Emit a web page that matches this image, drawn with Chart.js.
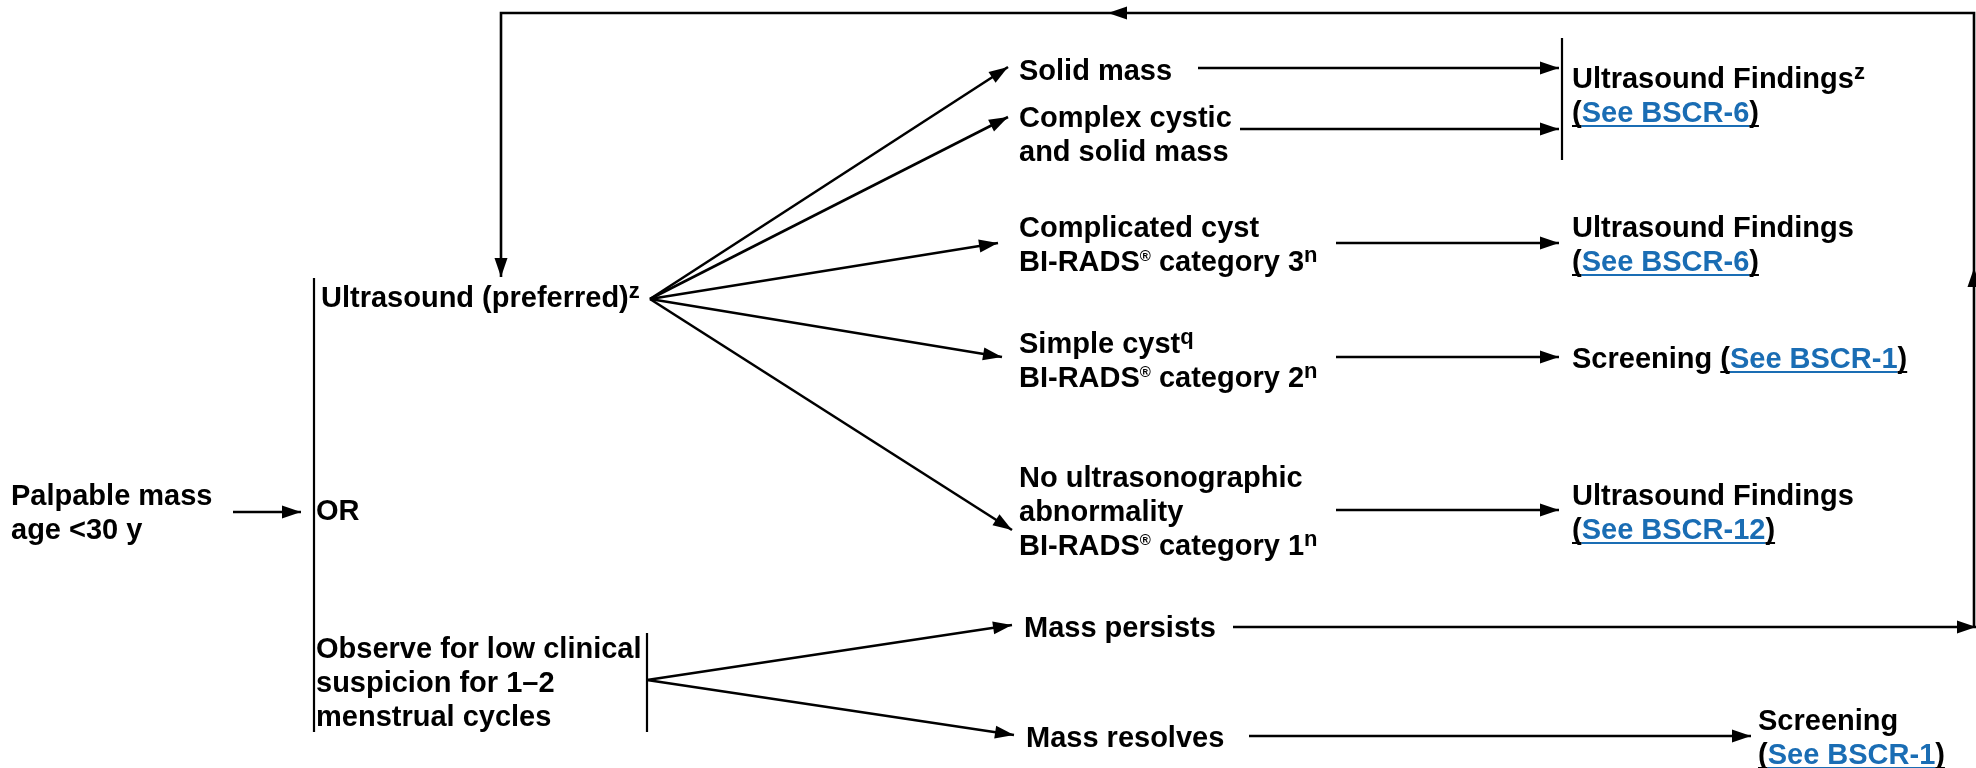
<!DOCTYPE html>
<html>
<head>
<meta charset="utf-8">
<script src="https://cdn.jsdelivr.net/npm/chart.js@4"></script>
<style>
  html, body { margin: 0; padding: 0; background: #fff; }
  #wrap { width: 1976px; height: 768px; position: relative; }
</style>
</head>
<body>
<div id="wrap"><canvas id="flowChart"></canvas></div>
<script>
// node labels: "^x" = superscript, "{...}" = link, "\n" = new line
const nodeText = [
    "Palpable mass\nage <30 y",
    "Ultrasound (preferred)^z",
    "OR",
    "Observe for low clinical\nsuspicion for 1–2\nmenstrual cycles",
    "Solid mass",
    "Complex cystic\nand solid mass",
    "Complicated cyst\nBI-RADS® category 3^n",
    "Simple cyst^q\nBI-RADS® category 2^n",
    "No ultrasonographic\nabnormality\nBI-RADS® category 1^n",
    "Mass persists",
    "Mass resolves",
    "Ultrasound Findings^z\n({See BSCR-6})",
    "Ultrasound Findings\n({See BSCR-6})",
    "Screening ({See BSCR-1})",
    "Ultrasound Findings\n({See BSCR-12})",
    "Screening\n({See BSCR-1})"
];
const nodeX = [11, 321, 316, 316, 1019, 1019, 1019, 1019, 1019, 1024, 1026, 1572, 1572, 1572, 1572, 1758];
const nodeY = [495, 297, 510, 648, 70, 117, 227, 343, 477, 627, 737, 78, 227, 358, 495, 720];

// connectors (polylines), arrowhead at the last point when lineHeads is true
const linePaths = [
    [[233, 512], [301, 512]],
    [[314, 278], [314, 732]],
    [[650, 299], [1008, 67]],
    [[650, 299], [1008, 117]],
    [[650, 299], [998, 243]],
    [[650, 299], [1002, 357]],
    [[650, 299], [1012, 530]],
    [[647, 633], [647, 732]],
    [[647, 680], [1012, 625]],
    [[647, 680], [1014, 735]],
    [[1198, 68], [1559, 68]],
    [[1240, 129], [1559, 129]],
    [[1336, 243], [1559, 243]],
    [[1336, 357], [1559, 357]],
    [[1336, 510], [1559, 510]],
    [[1233, 627], [1976, 627]],
    [[1974, 627], [1974, 268]],
    [[1974, 268], [1974, 13], [1108, 13]],
    [[1108, 13], [501, 13], [501, 277]],
    [[1249, 736], [1751, 736]],
    [[1562, 38], [1562, 160]]
];
const lineHeads = [true, false, true, true, true, true, true, false, true, true,
    true, true, true, true, true, true, true, true, true, true, false];

const FONT = '"Liberation Sans", Arial, sans-serif';
const LINK_BLUE = '#1a6db4';

function tokens(line) {
    const out = [];
    const parts = line.split(/(\{[^}]*\}|\^[a-z]|®)/).filter(s => s.length);
    parts.forEach((p, i) => {
        if (p[0] === '{') {
            out.push({ t: p.slice(1, -1), kind: 'n', color: LINK_BLUE, ul: true });
        } else if (p[0] === '^') {
            out.push({ t: p.slice(1), kind: 'sup', color: '#000' });
        } else if (p === '®') {
            out.push({ t: p, kind: 'reg', color: '#000' });
        } else {
            // parens around a link get underlined too
            let s = p, head = '', tail = '';
            const next = parts[i + 1], prev = parts[i - 1];
            if (prev && prev[0] === '{' && s[0] === ')') { head = ')'; s = s.slice(1); }
            if (next && next[0] === '{' && s.endsWith('(')) { tail = '('; s = s.slice(0, -1); }
            if (head) out.push({ t: head, kind: 'n', color: '#000', ul: true });
            if (s) out.push({ t: s, kind: 'n', color: '#000' });
            if (tail) out.push({ t: tail, kind: 'n', color: '#000', ul: true });
        }
    });
    return out;
}

function drawRich(ctx, line, x0, base) {
    let cx = x0;
    tokens(line).forEach(tk => {
        let size = 29, off = 0;
        if (tk.kind === 'sup') { size = 22; off = -9; }
        if (tk.kind === 'reg') { size = 15; off = -10; }
        ctx.font = 'bold ' + size + 'px ' + FONT;
        ctx.fillStyle = tk.color;
        ctx.fillText(tk.t, cx, base + off);
        const w = ctx.measureText(tk.t).width;
        if (tk.ul) ctx.fillRect(cx, base + 3, w, 2);
        cx += w;
    });
}

const flowPlugin = {
    id: 'flow',
    afterDatasetsDraw(chart) {
        const { ctx, scales: { x, y } } = chart;
        ctx.save();
        ctx.fillStyle = '#000';
        linePaths.forEach((p, i) => {
            if (!lineHeads[i]) return;
            const a = p[p.length - 2], b = p[p.length - 1];
            const x1 = x.getPixelForValue(a[0]), y1 = y.getPixelForValue(a[1]);
            const x2 = x.getPixelForValue(b[0]), y2 = y.getPixelForValue(b[1]);
            const ang = Math.atan2(y2 - y1, x2 - x1);
            const L = 19, W = 6.5;
            ctx.beginPath();
            ctx.moveTo(x2, y2);
            ctx.lineTo(x2 - L * Math.cos(ang) + W * Math.sin(ang), y2 - L * Math.sin(ang) - W * Math.cos(ang));
            ctx.lineTo(x2 - L * Math.cos(ang) - W * Math.sin(ang), y2 - L * Math.sin(ang) + W * Math.cos(ang));
            ctx.closePath();
            ctx.fill();
        });

        ctx.textBaseline = 'alphabetic';
        ctx.textAlign = 'left';
        nodeText.forEach((txt, i) => {
            const px = x.getPixelForValue(nodeX[i]);
            txt.split('\n').forEach((line, j) => {
                const py = y.getPixelForValue(nodeY[i] + j * 34) + 10;
                drawRich(ctx, line, px, py);
            });
        });
        ctx.restore();
    }
};

const datasets = linePaths.map((p, i) => ({
    data: p.map(([px, py]) => ({ x: px, y: py })),
    showLine: true,
    borderColor: '#000',
    borderWidth: lineHeads[i] ? 2.6 : 2.2,
    pointRadius: 0,
    tension: 0,
    clip: false
}));

new Chart(document.getElementById('flowChart'), {
    type: 'scatter',
    data: { datasets },
    options: {
        responsive: true,
        maintainAspectRatio: false,
        animation: false,
        layout: { padding: 0 },
        plugins: { legend: { display: false }, tooltip: { enabled: false } },
        scales: {
            x: { type: 'linear', min: 0, max: 1976, display: false },
            y: { type: 'linear', min: 0, max: 768, reverse: true, display: false }
        }
    },
    plugins: [flowPlugin]
});
</script>
</body>
</html>
